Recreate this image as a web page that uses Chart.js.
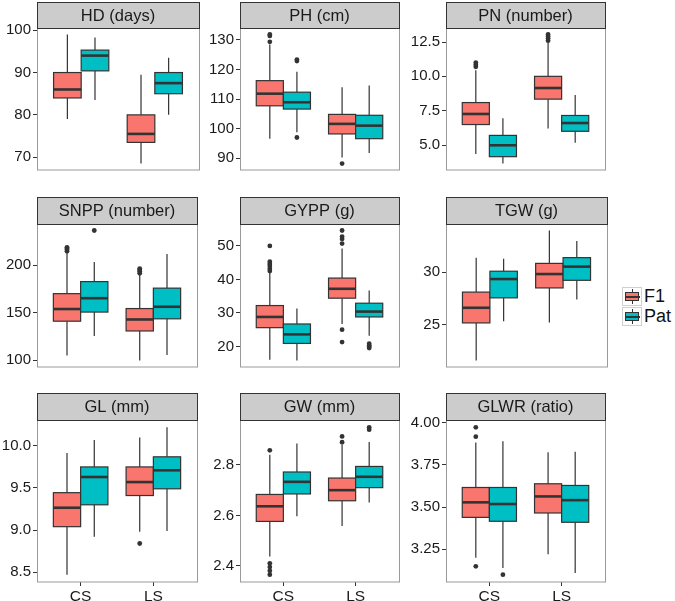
<!DOCTYPE html>
<html>
<head>
<meta charset="utf-8">
<script src="https://cdn.jsdelivr.net/npm/chart.js@4"></script>
<style>
  body { margin: 0; background: #fff; font-family: "Liberation Sans", Arial, sans-serif; }
  #wrap { position: relative; width: 675px; height: 601px; overflow: hidden; }
  canvas { position: absolute; }
  .key { position: absolute; width: 20px; height: 19px; border: 1px solid #d0d0d0; background: #fff; box-sizing: border-box; }
  .key .wh { position: absolute; left: 8.5px; top: 1px; width: 1.3px; height: 15px; background: #333; }
  .key .bx { position: absolute; left: 2px; top: 4px; width: 12px; height: 7px; border: 1.3px solid #333; }
  .key .md { position: absolute; left: 2px; top: 7.5px; width: 15px; height: 2px; background: #333; }
  .lab { position: absolute; font-size: 18px; color: #111; line-height: 19px; }
</style>
</head>
<body>
<div id="wrap"></div>
<script>
// categories
const environments = ['CS', 'LS'];
const groups = ['F1', 'Pat'];
const groupColors = ['#F8766D', '#00BFC4'];
const traits = ['HD (days)', 'PH (cm)', 'PN (number)', 'SNPP (number)', 'GYPP (g)', 'TGW (g)', 'GL (mm)', 'GW (mm)', 'GLWR (ratio)'];

// box statistics [lower whisker, Q1, median, Q3, upper whisker]
// order inside each trait: CS-F1, CS-Pat, LS-F1, LS-Pat
const hdStats   = [[79, 84, 86, 90, 99], [83.5, 90.4, 94, 95.3, 98.3], [68.5, 73.5, 75.5, 80, 89.5], [80, 85, 87.5, 90, 93.5]];
const phStats   = [[96.6, 107.7, 111.8, 116.2, 128.4], [98.8, 106.6, 108.9, 112.3, 119.2], [90.2, 98.2, 101.6, 104.8, 114.0], [91.8, 96.6, 101.0, 104.5, 114.6]];
const pnStats   = [[4.35, 6.49, 7.26, 8.09, 10.44], [3.65, 4.15, 4.98, 5.70, 6.94], [6.2, 8.34, 9.15, 10.0, 12.45], [5.17, 6.0, 6.6, 7.15, 8.64]];
const snppStats = [[104.7, 140.9, 153.7, 169.9, 212.5], [125.3, 150.5, 165.1, 182.6, 203.2], [99.5, 130.6, 142.7, 154.2, 189.5], [105.3, 143.4, 156.1, 175.7, 211.6]];
const gyppStats = [[16.0, 25.6, 28.8, 32.2, 42.0], [15.8, 20.9, 23.6, 26.7, 31.3], [26.7, 34.4, 37.2, 40.4, 49.2], [23.2, 28.8, 30.4, 32.9, 36.7]];
const tgwStats  = [[21.55, 25.15, 26.6, 28.1, 31.4], [25.3, 27.55, 29.35, 30.1, 31.3], [25.2, 28.5, 29.83, 30.85, 34.0], [27.4, 29.23, 30.54, 31.4, 33.0]];
const glStats   = [[8.47, 9.04, 9.265, 9.444, 9.916], [8.92, 9.30, 9.63, 9.75, 10.07], [8.98, 9.41, 9.57, 9.75, 10.10], [8.99, 9.49, 9.71, 9.87, 10.22]];
const gwStats   = [[2.437, 2.576, 2.636, 2.683, 2.84], [2.597, 2.685, 2.733, 2.772, 2.885], [2.558, 2.658, 2.70, 2.748, 2.88], [2.651, 2.71, 2.753, 2.794, 2.891]];
const glwrStats = [[3.20, 3.439, 3.528, 3.616, 3.882], [3.14, 3.416, 3.518, 3.616, 3.89], [3.22, 3.465, 3.563, 3.638, 3.824], [3.11, 3.41, 3.541, 3.628, 3.828]];

// outliers, same order
const hdOut   = [[], [], [], []];
const phOut   = [[129.3, 131.3, 131.8], [97.0, 122.8, 123.3], [88.2], []];
const pnOut   = [[10.7, 10.85, 11.0], [], [12.6, 12.75, 12.9, 13.05], []];
const snppOut = [[214.5, 216, 217.5, 218.7], [236.4], [191.3, 193.5, 195, 196.3], []];
const gyppOut = [[42.5, 43.2, 44, 44.6, 45.3, 50.0], [], [21.3, 25.0, 50.7, 52.1, 52.8, 54.6], [19.5, 19.9, 20.3, 20.8]];
const tgwOut  = [[], [], [], []];
const glOut   = [[], [], [8.84], []];
const gwOut   = [[2.365, 2.38, 2.395, 2.41, 2.858], [], [2.89, 2.913], [2.94, 2.949]];
const glwrOut = [[3.149, 3.917, 3.972], [3.10], [], []];

// y tick labels
const hdTicks   = [70, 80, 90, 100];
const phTicks   = [90, 100, 110, 120, 130];
const pnTicks   = [5.0, 7.5, 10.0, 12.5];
const snppTicks = [100, 150, 200];
const gyppTicks = [20, 30, 40, 50];
const tgwTicks  = [25, 30];
const glTicks   = [8.5, 9.0, 9.5, 10.0];
const gwTicks   = [2.4, 2.6, 2.8];
const glwrTicks = [3.25, 3.50, 3.75, 4.00];
const tickDecimals = [0, 0, 1, 0, 0, 0, 1, 1, 2];

const allStats = [hdStats, phStats, pnStats, snppStats, gyppStats, tgwStats, glStats, gwStats, glwrStats];
const allOut = [hdOut, phOut, pnOut, snppOut, gyppOut, tgwOut, glOut, gwOut, glwrOut];
const allTicks = [hdTicks, phTicks, pnTicks, snppTicks, gyppTicks, tgwTicks, glTicks, gwTicks, glwrTicks];

// layout of the facet grid
const colLeft = [37, 240, 446];
const colRight = [199, 401, 607];
const rowStrip = [2, 197, 393];
const rowTop = [28, 224, 420];
const rowBottom = [189, 386, 582];
const AXIS_W = 37;
const DODGE = 0.1875;
const HALF = 0.1875;

const family = '"Liberation Sans", Arial, sans-serif';

const boxPlugin = {
  id: 'boxes',
  beforeDatasetsDraw(chart, args, opts) {
    const ctx = chart.ctx, xs = chart.scales.x, ys = chart.scales.y;
    opts.stats.forEach((s, i) => {
      const env = Math.floor(i / 2), g = i % 2;
      const c = env + 1 + (g === 0 ? -DODGE : DODGE);
      const xc = xs.getPixelForValue(c);
      const x0 = xs.getPixelForValue(c - HALF), x1 = xs.getPixelForValue(c + HALF);
      const [lo, q1, md, q3, hi] = s.map(v => ys.getPixelForValue(v));
      ctx.save();
      ctx.strokeStyle = '#333';
      ctx.lineWidth = 1.2;
      ctx.beginPath();
      ctx.moveTo(xc, hi); ctx.lineTo(xc, q3);
      ctx.moveTo(xc, q1); ctx.lineTo(xc, lo);
      ctx.stroke();
      ctx.fillStyle = groupColors[g];
      ctx.fillRect(x0, q3, x1 - x0, q1 - q3);
      ctx.strokeRect(x0, q3, x1 - x0, q1 - q3);
      ctx.lineWidth = 2.6;
      ctx.beginPath();
      ctx.moveTo(x0, md); ctx.lineTo(x1, md);
      ctx.stroke();
      ctx.restore();
    });
  },
  afterDraw(chart, args, opts) {
    const ctx = chart.ctx, a = chart.chartArea;
    ctx.save();
    ctx.strokeStyle = '#9a9a9a';
    ctx.lineWidth = 1;
    ctx.strokeRect(a.left + 0.5, a.top, a.right - a.left, a.bottom - a.top);
    const sh = opts.stripH;
    ctx.fillStyle = '#cccccc';
    ctx.fillRect(a.left, a.top - sh, a.right - a.left, sh);
    ctx.strokeStyle = '#333';
    ctx.strokeRect(a.left + 0.5, a.top - sh + 0.5, a.right - a.left, sh);
    ctx.fillStyle = '#1a1a1a';
    ctx.font = '16.5px ' + family;
    ctx.textAlign = 'center';
    ctx.textBaseline = 'middle';
    ctx.fillText(opts.title, (a.left + a.right) / 2, a.top - sh / 2 + 1);
    ctx.restore();
  }
};

const wrap = document.getElementById('wrap');

traits.forEach((name, p) => {
  const col = p % 3, row = Math.floor(p / 3);
  const bottomRow = row === 2;
  const stats = allStats[p], outs = allOut[p], ticks = allTicks[p], dec = tickDecimals[p];

  let lo = Infinity, hi = -Infinity;
  stats.forEach((s, i) => {
    lo = Math.min(lo, s[0], ...outs[i]);
    hi = Math.max(hi, s[4], ...outs[i]);
  });
  const pad = (hi - lo) * 0.05;

  const xAxisH = 19;
  const canvas = document.createElement('canvas');
  const w = colRight[col] - colLeft[col] + AXIS_W + 2;
  const h = rowBottom[row] - rowStrip[row] + (bottomRow ? xAxisH : 1);
  canvas.width = w; canvas.height = h;
  canvas.style.left = (colLeft[col] - AXIS_W) + 'px';
  canvas.style.top = rowStrip[row] + 'px';
  canvas.style.width = w + 'px'; canvas.style.height = h + 'px';
  wrap.appendChild(canvas);

  const datasets = outs.map((arr, i) => {
    const env = Math.floor(i / 2), g = i % 2;
    const c = env + 1 + (g === 0 ? -DODGE : DODGE);
    return {
      label: environments[env] + ' ' + groups[g],
      data: arr.map(v => ({ x: c, y: v })),
      pointRadius: 2.4,
      pointBackgroundColor: '#333',
      pointBorderWidth: 0,
      showLine: false
    };
  });

  new Chart(canvas, {
    type: 'scatter',
    data: { datasets },
    options: {
      responsive: false,
      animation: false,
      devicePixelRatio: 1,
      layout: { padding: { top: rowTop[row] - rowStrip[row], right: 2, left: 0, bottom: bottomRow ? 0 : 1 } },
      plugins: {
        legend: { display: false },
        tooltip: { enabled: false },
        boxes: { stats, title: name, stripH: rowTop[row] - rowStrip[row] }
      },
      scales: {
        x: {
          type: 'linear',
          min: 0.4, max: 2.6,
          display: bottomRow,
          afterBuildTicks(s) { s.ticks = [{ value: 1 }, { value: 2 }]; },
          afterFit(s) { s.height = xAxisH; },
          ticks: {
            autoSkip: false, maxRotation: 0, padding: 1,
            font: { family, size: 15.5 }, color: '#1a1a1a',
            callback: v => environments[v - 1]
          },
          grid: { drawOnChartArea: false, tickLength: 4, tickColor: '#333', tickWidth: 1 },
          border: { display: false }
        },
        y: {
          type: 'linear',
          min: lo - pad, max: hi + pad,
          afterBuildTicks(s) { s.ticks = ticks.map(v => ({ value: v })); },
          afterFit(s) { s.width = AXIS_W; },
          ticks: {
            autoSkip: false, padding: 2,
            font: { family, size: 15 }, color: '#1a1a1a',
            callback: v => Number(v).toFixed(dec)
          },
          grid: { drawOnChartArea: false, tickLength: 4, tickColor: '#333', tickWidth: 1 },
          border: { display: false }
        }
      }
    },
    plugins: [boxPlugin]
  });
});

// legend
groups.forEach((g, i) => {
  const top = 287 + i * 20;
  const key = document.createElement('div');
  key.className = 'key';
  key.style.left = '622px';
  key.style.top = top + 'px';
  key.innerHTML = '<div class="wh"></div><div class="bx" style="background:' + groupColors[i] + '"></div><div class="md"></div>';
  wrap.appendChild(key);
  const lab = document.createElement('div');
  lab.className = 'lab';
  lab.style.left = '644px';
  lab.style.top = top + 'px';
  lab.textContent = g;
  wrap.appendChild(lab);
});
</script>
</body>
</html>
